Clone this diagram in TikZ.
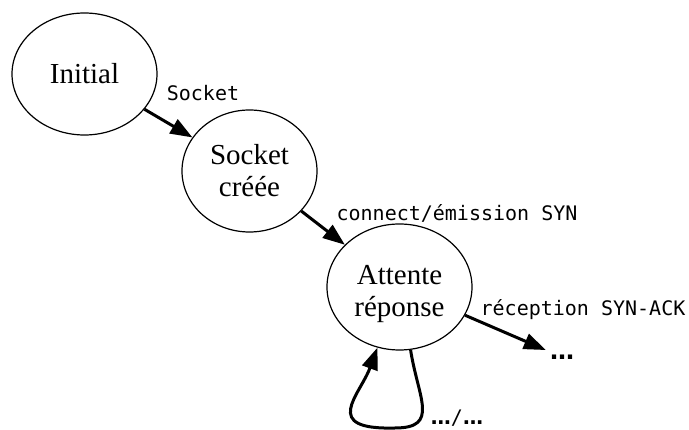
\documentclass[tikz,border=0pt]{standalone}
\usepackage{fontspec}
\setmainfont{Liberation Serif}
\newfontfamily\labelfont{DejaVu Sans Mono}
\newfontfamily\dotfont{DejaVu Sans}
\usetikzlibrary{shapes.geometric,arrows.meta}
\tikzset{
  state/.style={ellipse, draw, line width=1.2pt, inner sep=0pt, align=center,
    font=\fontsize{29}{32}\selectfont},
  edge/.style={line width=3pt, -{Triangle[length=22pt,width=16pt]}},
  elabel/.style={font=\labelfont\fontsize{20}{24}\selectfont, inner sep=0pt},
  dotsnode/.style={font=\dotfont\bfseries\fontsize{24}{28}\selectfont, inner xsep=4pt, inner ysep=8pt}
}
\newcommand{\mydots}{{\dotfont\bfseries\fontsize{20}{24}\selectfont …}}
\begin{document}
\begin{tikzpicture}[x=1pt,y=-1pt]
\fill[white] (0,0) rectangle (689,430);
\useasboundingbox (0,0) rectangle (689,430);
\node[state, minimum width=145pt, minimum height=122pt] (init) at (84.5,74) {Initial};
\node[state, minimum width=135pt, minimum height=122pt] (sock) at (249.5,171) {Socket\\créée};
\node[state, minimum width=145pt, minimum height=126pt] (att) at (399.5,287) {\rule{0pt}{34pt}Attente\\réponse};
\node[dotsnode] (dots) at (562,357) {…};
\node[elabel] (l1) at (203,93) {Socket};
\node[elabel] (l2) at (457,213) {connect/émission SYN};
\node[elabel] (l3) at (583,310) {réception SYN-ACK};
\node[inner sep=0pt] (l4) at (457,418) {\mydots{\labelfont\fontsize{20}{24}\selectfont/}\mydots};
\draw[edge] (init) -- (sock);
\draw[edge] (sock) -- (att);
\draw[edge] (att) -- (dots);
\draw[edge] (att.-80) .. controls (418,398) and (440,428) .. (395,428)
  .. controls (320,430) and (360,395) .. (att.-110);
\end{tikzpicture}
\end{document}
